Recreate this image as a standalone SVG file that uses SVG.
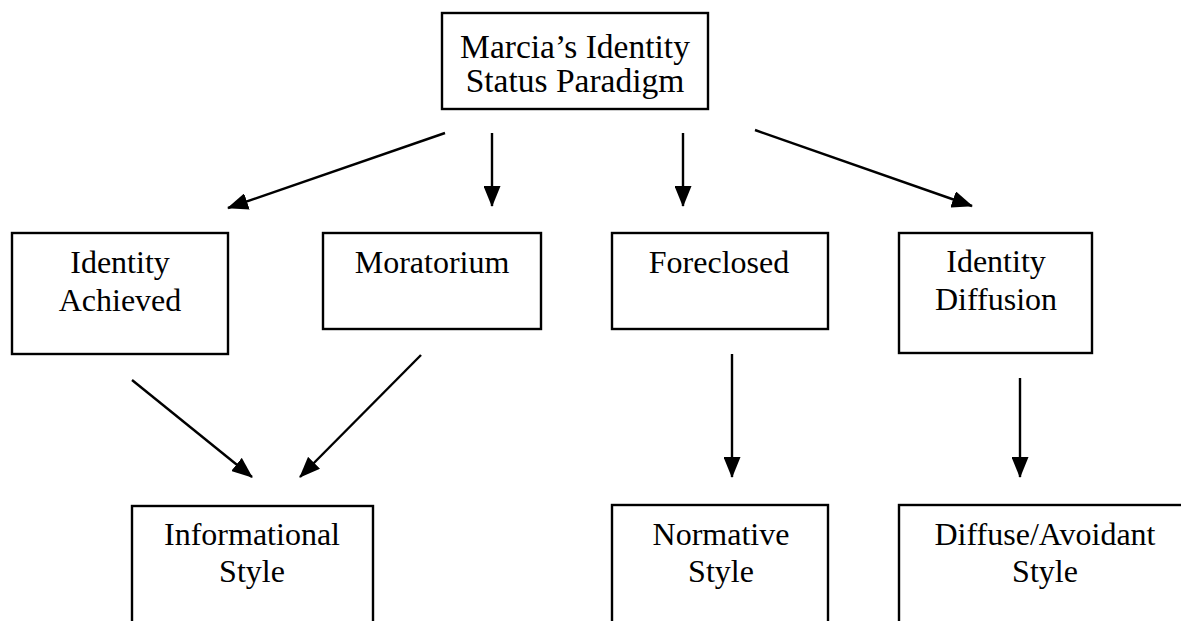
<svg xmlns="http://www.w3.org/2000/svg" width="1181" height="621" viewBox="0 0 1181 621">
<style>
  .box { fill: #fff; stroke: #000; stroke-width: 2.4; }
  .lbl { font-family: "Liberation Serif", "Times New Roman", serif; font-size: 32px; fill: #000; text-anchor: middle; }
  .top { font-size: 33.5px; }
  .conn { stroke: #000; stroke-width: 2.4; fill: none; marker-end: url(#ah); }
</style>
<defs>
  <marker id="ah" markerUnits="userSpaceOnUse" markerWidth="21" markerHeight="17" refX="20" refY="8.5" orient="auto">
    <path d="M0,0 L21,8.5 L0,17 z" fill="#000"/>
  </marker>
</defs>
<rect width="1181" height="621" fill="#fff"/>
<g id="paradigm">
  <rect class="box" x="442" y="13" width="266" height="96"/>
  <text class="lbl top" x="575" y="58">Marcia’s Identity</text>
  <text class="lbl top" x="575" y="92">Status Paradigm</text>
</g>
<g id="achieved">
  <rect class="box" x="12" y="233" width="216" height="121"/>
  <text class="lbl" x="120" y="273">Identity</text>
  <text class="lbl" x="120" y="311">Achieved</text>
</g>
<g id="moratorium">
  <rect class="box" x="323" y="233" width="218" height="96"/>
  <text class="lbl" x="432" y="273">Moratorium</text>
</g>
<g id="foreclosed">
  <rect class="box" x="612" y="233" width="216" height="96"/>
  <text class="lbl" x="719" y="273">Foreclosed</text>
</g>
<g id="diffusion">
  <rect class="box" x="899" y="233" width="193" height="120"/>
  <text class="lbl" x="996" y="272">Identity</text>
  <text class="lbl" x="996" y="310">Diffusion</text>
</g>
<g id="informational">
  <rect class="box" x="132" y="506" width="241" height="130"/>
  <text class="lbl" x="252" y="545">Informational</text>
  <text class="lbl" x="252" y="582">Style</text>
</g>
<g id="normative">
  <rect class="box" x="612" y="505" width="216" height="130"/>
  <text class="lbl" x="721" y="545">Normative</text>
  <text class="lbl" x="721" y="582">Style</text>
</g>
<g id="diffuse">
  <rect class="box" x="899" y="505" width="300" height="130"/>
  <text class="lbl" x="1045" y="545">Diffuse/Avoidant</text>
  <text class="lbl" x="1045" y="582">Style</text>
</g>
<g id="connectors">
  <line class="conn" x1="445" y1="133" x2="228" y2="208"/>
  <line class="conn" x1="492" y1="133" x2="492" y2="206"/>
  <line class="conn" x1="683" y1="133" x2="683" y2="206"/>
  <line class="conn" x1="755" y1="130" x2="972" y2="206"/>
  <line class="conn" x1="132" y1="380" x2="252" y2="477"/>
  <line class="conn" x1="421" y1="355" x2="300" y2="477"/>
  <line class="conn" x1="732" y1="354" x2="732" y2="477"/>
  <line class="conn" x1="1020" y1="378" x2="1020" y2="477"/>
</g>
</svg>
